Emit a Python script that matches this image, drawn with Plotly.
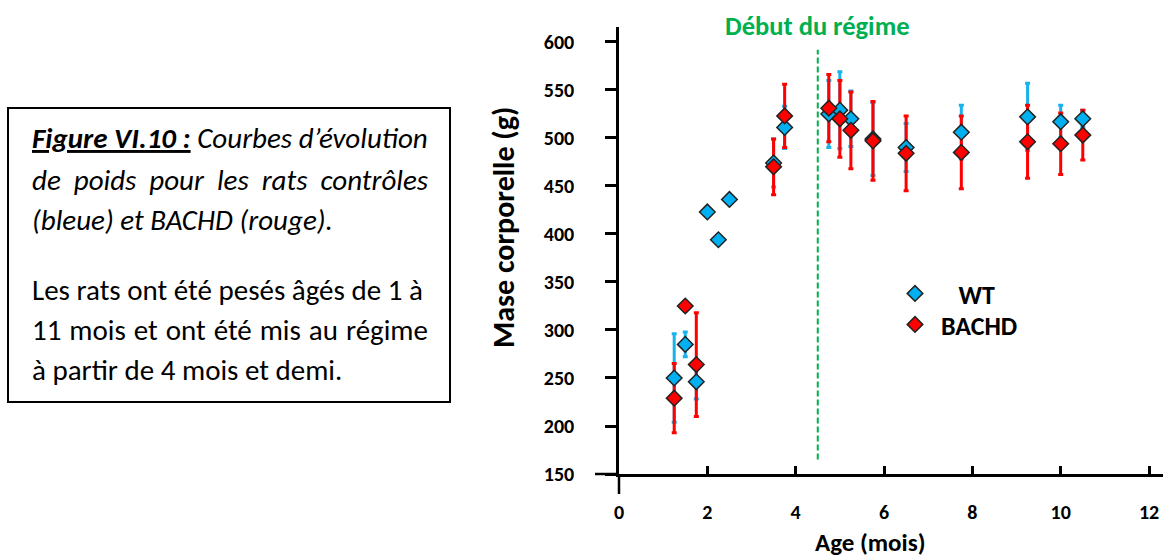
import plotly.graph_objects as go

# ---- data -------------------------------------------------------------
wt_age = [1.25, 1.5, 1.75, 2.0, 2.25, 2.5, 3.5, 3.75, 4.75, 5.0, 5.25, 5.75, 6.5, 7.75, 9.25, 10.0, 10.5]
wt_mass = [250, 285, 246, 423, 394, 436, 474, 511, 525, 529, 520, 499, 490, 506, 522, 517, 520]
wt_err = [46, 13, 18, 0, 0, 0, 25, 22, 35, 40, 29, 38, 25, 28, 35, 17, 9]

bachd_age = [1.25, 1.5, 1.75, 3.5, 3.75, 4.75, 5.0, 5.25, 5.75, 6.5, 7.75, 9.25, 10.0, 10.5]
bachd_mass = [229, 325, 264, 470, 523, 531, 520, 508, 497, 484, 485, 496, 494, 503]
bachd_err = [36, 5, 54, 29, 33, 35, 40, 40, 41, 39, 38, 38, 32, 26]

diet_start = 4.5
x_ticks = [0, 2, 4, 6, 8, 10, 12]

# ---- geometry helpers (pixels -> paper) --------------------------------
W, H = 1163, 559
PL, PT, PR, PB = 619, 27, 1163, 474


def px(x):
    return (x - PL) / (PR - PL)


def py(y):
    return (PB - y) / (PB - PT)


FONT = "Calibri, Carlito, Lato, sans-serif"
BLUE = "#00b0f0"
BLUE_BAR = "#1ab2ea"
RED = "#ff0000"
GREEN = "#00b050"
LEGEND_FONT = dict(family=FONT, size=26, color="black", weight="bold")

fig = go.Figure()

# error bars first (blue under red), then the markers on top
fig.add_trace(go.Scatter(
    x=wt_age, y=wt_mass, mode="markers", showlegend=False, hoverinfo="skip",
    marker=dict(size=1, opacity=0),
    error_y=dict(type="data", array=wt_err, color=BLUE_BAR, thickness=3, width=2.5),
))
fig.add_trace(go.Scatter(
    x=bachd_age, y=bachd_mass, mode="markers", showlegend=False, hoverinfo="skip",
    marker=dict(size=1, opacity=0),
    error_y=dict(type="data", array=bachd_err, color=RED, thickness=3, width=2.5),
))
fig.add_trace(go.Scatter(
    x=wt_age, y=wt_mass, mode="markers", name="\u00a0\u00a0\u00a0\u00a0WT", legend="legend",
    marker=dict(symbol="diamond", size=12, color=BLUE, line=dict(color="#222222", width=1.5)),
))
fig.add_trace(go.Scatter(
    x=bachd_age, y=bachd_mass, mode="markers", name="\u00a0BACHD", legend="legend2",
    marker=dict(symbol="diamond", size=12, color=RED, line=dict(color="#222222", width=1.5)),
))

shapes = [
    # diet start marker
    dict(type="line", xref="x", yref="y", x0=diet_start, x1=diet_start, y0=165, y1=592,
         line=dict(color=GREEN, width=2, dash="6px,3px")),
    # axis extensions beyond the crossing point
    dict(type="line", xref="paper", yref="paper", x0=px(595), x1=0, y0=0, y1=0,
         line=dict(color="black", width=2.5)),
    dict(type="line", xref="paper", yref="paper", x0=0, x1=0, y0=0, y1=py(494),
         line=dict(color="black", width=2.5)),
    # caption frame
    dict(type="rect", xref="paper", yref="paper", x0=px(8), x1=px(450), y0=py(402), y1=py(108),
         line=dict(color="black", width=2)),
]

annotations = [
    dict(text="<b>Début du régime</b>", x=diet_start, xref="x", y=py(26), yref="paper",
         showarrow=False, xanchor="center", yanchor="middle",
         font=dict(family=FONT, size=26.5, color=GREEN)),
    dict(text="<b>Age (mois)</b>", x=px(870), xref="paper", y=py(542), yref="paper",
         showarrow=False, xanchor="center", yanchor="middle",
         font=dict(family=FONT, size=25, color="black")),
    dict(text="<b>Mase corporelle (g)</b>", x=px(503), xref="paper", y=py(228), yref="paper",
         showarrow=False, xanchor="center", yanchor="middle", textangle=-90,
         font=dict(family=FONT, size=30, color="black")),
]

# caption text, one annotation per line; extra word spacing justifies the full lines
CAP_SIZE = 29
caption_lines = [
    (138, "<b><u>Figure VI.10 :</u></b> Courbes d’évolution", True, 0),
    (180, "de poids pour les rats contrôles", True, 6.4),
    (220, "(bleue) et BACHD (rouge).", True, 0),
    (290, "Les rats ont été pesés âgés de 1 à", False, 0),
    (330, "11 mois et ont été mis au régime", False, 1.4),
    (370, "à partir de 4 mois et demi.", False, 0),
]
for yline, text, italic, spacing in caption_lines:
    body = f'<span style="word-spacing:{spacing}px">{text}</span>'
    if italic:
        body = f"<i>{body}</i>"
    annotations.append(dict(
        text=body, x=px(30), xref="paper", y=py(yline), yref="paper",
        showarrow=False, xanchor="left", yanchor="middle",
        font=dict(family=FONT, size=CAP_SIZE, color="black"),
    ))

fig.update_layout(
    width=W, height=H, autosize=False,
    margin=dict(l=PL, r=W - PR, t=PT, b=H - PB, pad=0),
    paper_bgcolor="white", plot_bgcolor="white",
    font=dict(family=FONT, color="black"),
    shapes=shapes, annotations=annotations,
    showlegend=True,
    legend=dict(x=px(895), y=py(270), xanchor="left", yanchor="top",
                bgcolor="rgba(0,0,0,0)", borderwidth=0, font=LEGEND_FONT, itemsizing="trace"),
    legend2=dict(x=px(895), y=py(301), xanchor="left", yanchor="top",
                 bgcolor="rgba(0,0,0,0)", borderwidth=0, font=LEGEND_FONT, itemsizing="trace"),
    xaxis=dict(range=[0, (PR - PL) / 44.17], tickvals=x_ticks, showgrid=False, zeroline=False,
               showline=True, linecolor="black", linewidth=2.5,
               ticks="inside", ticklen=8, tickwidth=2.5, tickcolor="black",
               ticklabelstandoff=18,
               tickfont=dict(family=FONT, size=20, color="black", weight="bold")),
    yaxis=dict(range=[150, 615.6], dtick=50, tick0=150, showgrid=False, zeroline=False,
               showline=True, linecolor="black", linewidth=2.5,
               ticks="outside", ticklen=11, tickwidth=2.5, tickcolor="black",
               ticklabelstandoff=27,
               tickfont=dict(family=FONT, size=20, color="black", weight="bold")),
)

fig.write_html("out.html")
